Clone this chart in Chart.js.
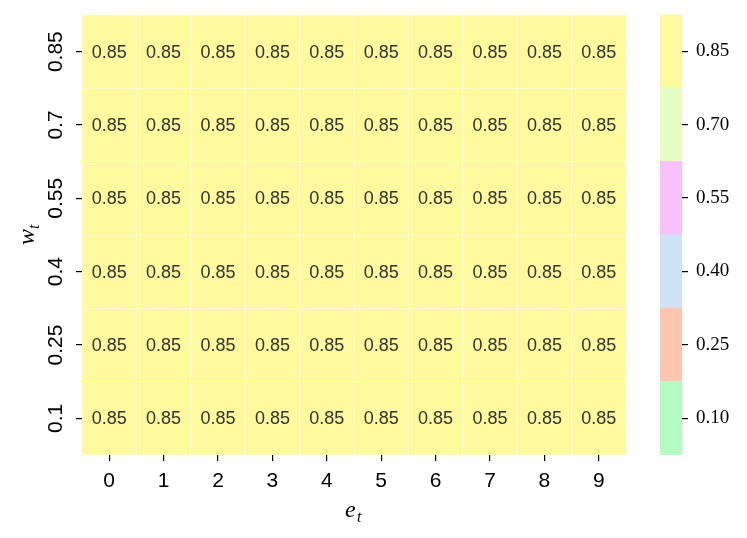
<!DOCTYPE html>
<html>
<head>
<meta charset="utf-8">
<script src="https://cdn.jsdelivr.net/npm/chart.js@4.4.1/dist/chart.umd.min.js"></script>
<style>
  body { margin: 0; background: #fff; }
  #wrap { position: relative; width: 747px; height: 538px; overflow: hidden; }
  #main { position: absolute; left: 0; top: 0; width: 640px; height: 538px; }
  #cbar { position: absolute; left: 640px; top: -5px; width: 107px; height: 543px; }
</style>
</head>
<body>
<div id="wrap">
  <div id="main"><canvas id="heat"></canvas></div>
  <div id="cbar"><canvas id="bar"></canvas></div>
</div>
<script>
// x categories (e_t) and y categories (w_t, bottom to top)
const eTicks = ['0', '1', '2', '3', '4', '5', '6', '7', '8', '9'];
const wTicks = ['0.1', '0.25', '0.4', '0.55', '0.7', '0.85'];

// cell values, one row per w_t
const row_w010 = [0.85, 0.85, 0.85, 0.85, 0.85, 0.85, 0.85, 0.85, 0.85, 0.85];
const row_w025 = [0.85, 0.85, 0.85, 0.85, 0.85, 0.85, 0.85, 0.85, 0.85, 0.85];
const row_w040 = [0.85, 0.85, 0.85, 0.85, 0.85, 0.85, 0.85, 0.85, 0.85, 0.85];
const row_w055 = [0.85, 0.85, 0.85, 0.85, 0.85, 0.85, 0.85, 0.85, 0.85, 0.85];
const row_w070 = [0.85, 0.85, 0.85, 0.85, 0.85, 0.85, 0.85, 0.85, 0.85, 0.85];
const row_w085 = [0.85, 0.85, 0.85, 0.85, 0.85, 0.85, 0.85, 0.85, 0.85, 0.85];
const rows = [row_w010, row_w025, row_w040, row_w055, row_w070, row_w085];

// discrete colorbar
const cbTicks = [0.10, 0.25, 0.40, 0.55, 0.70, 0.85];
const cbColors = ['#b3fdc2', '#fec6af', '#cfe2f8', '#f8c1f9', '#e6fdc2', '#fdf99c'];
const binHalf = 0.075;

function colorFor(v) {
  let best = 0;
  cbTicks.forEach((t, i) => {
    if (Math.abs(v - t) < Math.abs(v - cbTicks[best])) best = i;
  });
  return cbColors[best];
}

const cellLabels = {
  id: 'cellLabels',
  afterDatasetsDraw(chart) {
    const ctx = chart.ctx;
    ctx.save();
    ctx.fillStyle = '#333333';
    ctx.font = '18px "Liberation Sans"';
    ctx.textAlign = 'center';
    ctx.textBaseline = 'middle';
    chart.data.datasets.forEach((ds, di) => {
      chart.getDatasetMeta(di).data.forEach((bar, i) => {
        const p = bar.getCenterPoint();
        ctx.fillText(rows[di][i].toFixed(2), p.x, p.y + 1);
      });
    });
    ctx.restore();
  }
};

const axisText = {
  id: 'axisText',
  afterDraw(chart) {
    const ctx = chart.ctx;
    const y = chart.scales.y;
    const area = chart.chartArea;
    ctx.save();
    ctx.fillStyle = '#000';
    // rotated y tick labels
    ctx.font = '21px "Liberation Sans"';
    ctx.textAlign = 'center';
    ctx.textBaseline = 'middle';
    wTicks.forEach((lab, i) => {
      const py = y.getPixelForValue(i + 0.5);
      ctx.save();
      ctx.translate(56, py);
      ctx.rotate(-Math.PI / 2);
      ctx.fillText(lab, 0, 0);
      ctx.restore();
    });
    // x title: e_t
    const cx = (area.left + area.right) / 2;
    ctx.textAlign = 'left';
    ctx.textBaseline = 'alphabetic';
    ctx.font = 'italic 24px "Liberation Serif"';
    ctx.fillText('e', cx - 9, 517);
    ctx.font = 'italic 16px "Liberation Serif"';
    ctx.fillText('t', cx + 3, 522);
    // y title: w_t
    const cy = (area.top + area.bottom) / 2;
    ctx.save();
    ctx.translate(34, cy);
    ctx.rotate(-Math.PI / 2);
    ctx.font = 'italic 24px "Liberation Serif"';
    ctx.fillText('w', -10, 0);
    ctx.font = 'italic 16px "Liberation Serif"';
    ctx.fillText('t', 6, 5);
    ctx.restore();
    ctx.restore();
  }
};

new Chart(document.getElementById('heat'), {
  type: 'bar',
  data: {
    labels: eTicks,
    datasets: rows.map((row, i) => ({
      label: wTicks[i],
      data: row.map(() => 1),
      backgroundColor: row.map(colorFor),
      borderColor: '#ffffff',
      borderWidth: 0.6,
      borderSkipped: false,
      barPercentage: 1,
      categoryPercentage: 1,
      stack: 'grid'
    }))
  },
  options: {
    responsive: true,
    maintainAspectRatio: false,
    animation: false,
    layout: { padding: { top: 15, right: 14, left: 0, bottom: 0 } },
    plugins: { legend: { display: false }, tooltip: { enabled: false } },
    scales: {
      x: {
        stacked: true,
        border: { display: false },
        grid: { offset: false, drawOnChartArea: false, color: '#000', lineWidth: 1.2, tickLength: 6 },
        ticks: { color: '#000', font: { family: 'Liberation Sans', size: 21 }, padding: 8, maxRotation: 0 },
        afterFit(scale) { scale.height = 83; }
      },
      y: {
        stacked: true,
        min: 0,
        max: wTicks.length,
        border: { display: false },
        grid: { drawOnChartArea: false, color: '#000', lineWidth: 1.2, tickLength: 6 },
        ticks: { callback: () => '' },
        afterBuildTicks(scale) {
          scale.ticks = wTicks.map((_, i) => ({ value: i + 0.5 }));
        },
        afterFit(scale) { scale.width = 82; }
      }
    }
  },
  plugins: [cellLabels, axisText]
});

new Chart(document.getElementById('bar'), {
  type: 'bar',
  data: {
    labels: ['cb'],
    datasets: cbTicks.map((t, i) => ({
      data: [[t - binHalf, t + binHalf]],
      backgroundColor: cbColors[i],
      borderWidth: 0,
      barPercentage: 1,
      categoryPercentage: 1,
      grouped: false
    }))
  },
  options: {
    responsive: true,
    maintainAspectRatio: false,
    animation: false,
    layout: { padding: { top: 15, left: 20, right: 0, bottom: 83 } },
    plugins: { legend: { display: false }, tooltip: { enabled: false } },
    scales: {
      x: { display: false },
      y: {
        position: 'right',
        min: cbTicks[0] - binHalf,
        max: cbTicks[cbTicks.length - 1] + binHalf,
        border: { display: false },
        grid: { drawOnChartArea: false, color: '#000', lineWidth: 1.2, tickLength: 6 },
        ticks: {
          color: '#000',
          font: { family: 'Liberation Serif', size: 19 },
          padding: 8,
          callback: v => v.toFixed(2)
        },
        afterBuildTicks(scale) {
          scale.ticks = cbTicks.map(v => ({ value: v }));
        },
        afterFit(scale) { scale.width = 65; }
      }
    }
  }
});
</script>
</body>
</html>
